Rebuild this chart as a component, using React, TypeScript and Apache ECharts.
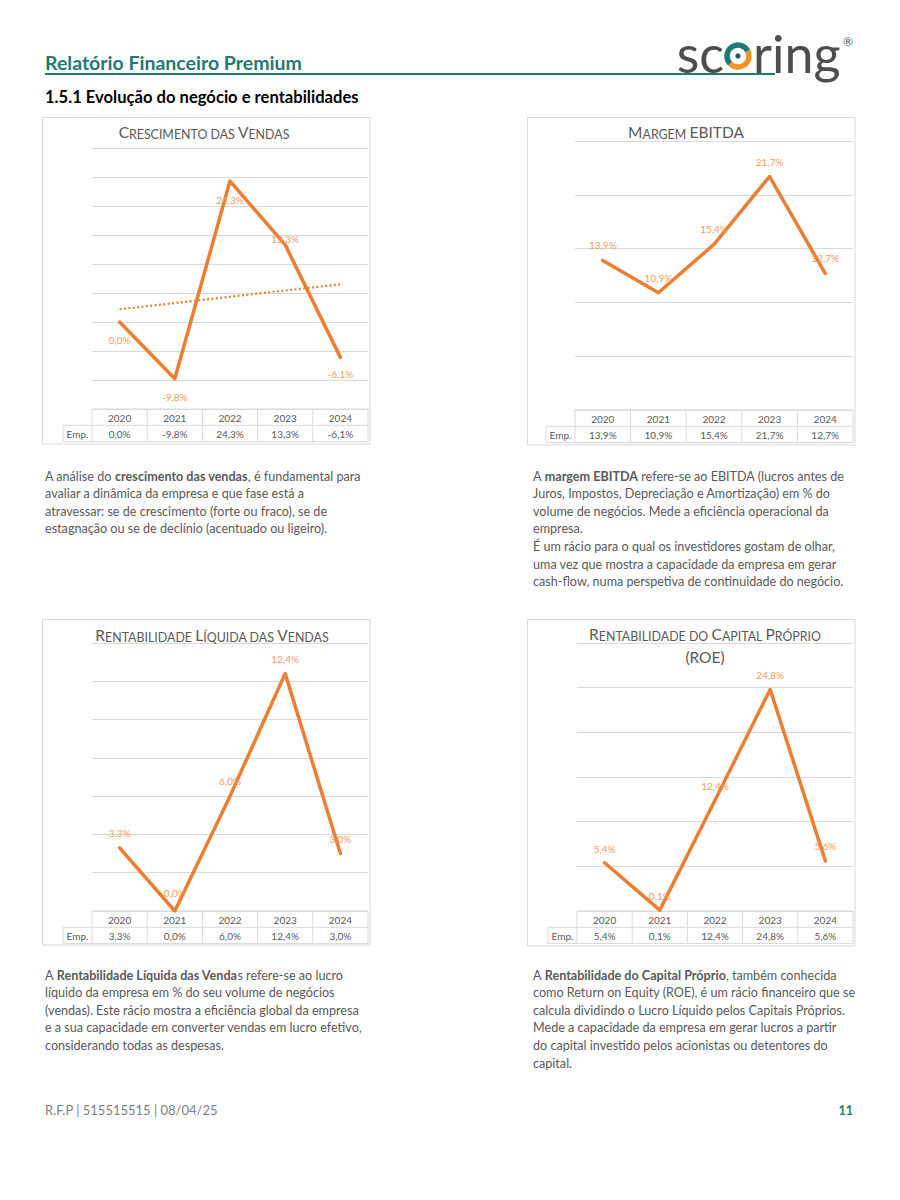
import React, { useEffect, useRef } from "react";
import * as echarts from "echarts";

// ---------- data ----------
const years = ["2020", "2021", "2022", "2023", "2024"];
const salesGrowth = [0.0, -9.8, 24.3, 13.3, -6.1];
const salesTrendEnds = [2.2, 6.5]; // linear trend line read at 2020 and 2024
const ebitdaMargin = [13.9, 10.9, 15.4, 21.7, 12.7];
const netMargin = [3.3, 0.0, 6.0, 12.4, 3.0];
const roe = [5.4, 0.1, 12.4, 24.8, 5.6];
const rowLabel = "Emp.";

const salesAxis = { min: -15, max: 30, interval: 5 };
const ebitdaAxis = { min: 0, max: 25, interval: 5 };
const netAxis = { min: 0, max: 14, interval: 2 };
const roeAxis = { min: 0, max: 30, interval: 5 };

// ---------- texts ----------
const reportTitle = "Relatório Financeiro Premium";
const sectionTitle = "1.5.1 Evolução do negócio e rentabilidades";
const footerText = "R.F.P | 515515515 | 08/04/25";
const pageNumber = "11";

const para1 = [
  "A análise do {b|crescimento das vendas}, é fundamental para",
  "avaliar a dinâmica da empresa e que fase está a",
  "atravessar: se de crescimento (forte ou fraco), se de",
  "estagnação ou se de declínio (acentuado ou ligeiro).",
];
const para2 = [
  "A {b|margem EBITDA} refere-se ao EBITDA (lucros antes de",
  "Juros, Impostos, Depreciação e Amortização) em % do",
  "volume de negócios. Mede a eficiência operacional da",
  "empresa.",
  "É um rácio para o qual os investidores gostam de olhar,",
  "uma vez que mostra a capacidade da empresa em gerar",
  "cash-flow, numa perspetiva de continuidade do negócio.",
];
const para3 = [
  "A {b|Rentabilidade Líquida das Venda}s refere-se ao lucro",
  "líquido da empresa em % do seu volume de negócios",
  "(vendas). Este rácio mostra a eficiência global da empresa",
  "e a sua capacidade em converter vendas em lucro efetivo,",
  "considerando todas as despesas.",
];
const para4 = [
  "A {b|Rentabilidade do Capital Próprio}, também conhecida",
  "como Return on Equity (ROE), é um rácio financeiro que se",
  "calcula dividindo o Lucro Líquido pelos Capitais Próprios.",
  "Mede a capacidade da empresa em gerar lucros a partir",
  "do capital investido pelos acionistas ou detentores do",
  "capital.",
];

// ---------- styles ----------
const FONT = "Lato, 'Noto Sans', sans-serif";
const GREY = "#595959";
const BORDER = "#d9d9d9";
const ORANGE = "#ED7D31";
const LABEL = "#F39B5D";
const TEAL = "#1f7a72";
const LOGO_ORANGE = "#f39325";
const LOGO_GREY = "#4d4d4d";

const fmtPct = (v: number) => v.toFixed(1).replace(".", ",") + "%";

function smallCaps(s: string) {
  let out = "";
  let cur = "";
  let curType = "";
  for (const ch of s) {
    const upper = ch !== ch.toLowerCase() || ch === "(" || ch === ")";
    let type = upper ? "b" : "s";
    if (ch === " ") type = curType || "s";
    if (type !== curType && cur) {
      out += `{${curType}|${cur}}`;
      cur = "";
    }
    curType = type;
    cur += type === "s" ? ch.toUpperCase() : ch;
  }
  if (cur) out += `{${curType}|${cur}}`;
  return out;
}

type Panel = {
  titleLines: string[];
  titleX: number;
  titleY: number[];
  values: number[];
  box: number[];
  grid: { left: number; top: number; right: number; bottom: number };
  axis: { min: number; max: number; interval: number };
  labelPos: string[];
  labelDist: number[];
};

const panels: Panel[] = [
  {
    titleLines: ["Crescimento das Vendas"],
    titleX: 204,
    titleY: [132],
    values: salesGrowth,
    box: [42.5, 117.5, 370, 444],
    grid: { left: 92, top: 148, right: 368, bottom: 409 },
    axis: salesAxis,
    labelPos: ["bottom", "bottom", "bottom", "top", "bottom"],
    labelDist: [12, 12, 13, 0, 11],
  },
  {
    titleLines: ["Margem EBITDA"],
    titleX: 686,
    titleY: [132],
    values: ebitdaMargin,
    box: [527.5, 117.5, 855, 445],
    grid: { left: 575, top: 141, right: 853, bottom: 410 },
    axis: ebitdaAxis,
    labelPos: ["top", "top", "top", "top", "top"],
    labelDist: [9, 9, 9, 9, 9],
  },
  {
    titleLines: ["Rentabilidade Líquida das Vendas"],
    titleX: 212,
    titleY: [635],
    values: netMargin,
    box: [42.5, 619.5, 370, 945],
    grid: { left: 92, top: 643, right: 368, bottom: 911 },
    axis: netAxis,
    labelPos: ["top", "top", "top", "top", "top"],
    labelDist: [9, 12, 9, 9, 9],
  },
  {
    titleLines: ["Rentabilidade do Capital Próprio", "(ROE)"],
    titleX: 705,
    titleY: [634, 657],
    values: roe,
    box: [527.5, 619.5, 855, 946],
    grid: { left: 577, top: 643, right: 853, bottom: 911 },
    axis: roeAxis,
    labelPos: ["top", "top", "top", "top", "top"],
    labelDist: [8, 8, 8, 8, 9],
  },
];

function txt(x: number, y: number, text: string, extra: any = {}, rich?: any) {
  const align = extra.align || "left";
  const style: any = {
    text,
    fill: extra.fill || GREY,
    fontSize: extra.fontSize || 12,
    fontFamily: extra.fontFamily || FONT,
    fontWeight: extra.fontWeight || "normal",
    align,
    textAlign: align,
    verticalAlign: extra.verticalAlign || "middle",
    textVerticalAlign: extra.verticalAlign || "middle",
  };
  if (rich) style.rich = rich;
  return { type: "text", x, y, silent: true, z: 10, style };
}

function ln(x1: number, y1: number, x2: number, y2: number, color = BORDER, width = 1) {
  return {
    type: "line",
    silent: true,
    z: 1,
    shape: { x1, y1, x2, y2 },
    style: { stroke: color, lineWidth: width },
  };
}

function buildOption() {
  const grid: any[] = [];
  const xAxis: any[] = [];
  const yAxis: any[] = [];
  const series: any[] = [];
  const graphic: any[] = [];

  const titleRich = {
    b: { fontSize: 15.5, fill: GREY, fontFamily: FONT, verticalAlign: "bottom" },
    s: { fontSize: 12.4, fill: GREY, fontFamily: FONT, verticalAlign: "bottom" },
  };

  panels.forEach((p, i) => {
    const g = p.grid;
    grid.push({ left: g.left, top: g.top, width: g.right - g.left, height: g.bottom - g.top });
    xAxis.push({
      type: "category",
      gridIndex: i,
      data: years,
      boundaryGap: true,
      axisLine: { show: false },
      axisTick: { show: false },
      axisLabel: { show: false },
      splitLine: { show: false },
    });
    yAxis.push({
      type: "value",
      gridIndex: i,
      min: p.axis.min,
      max: p.axis.max,
      interval: p.axis.interval,
      axisLine: { show: false },
      axisTick: { show: false },
      axisLabel: { show: false },
      splitLine: { show: true, lineStyle: { color: BORDER, width: 1 } },
    });
    series.push({
      type: "line",
      xAxisIndex: i,
      yAxisIndex: i,
      silent: true,
      z: 3,
      symbol: "circle",
      symbolSize: 2,
      showSymbol: true,
      itemStyle: { color: "rgba(0,0,0,0)" },
      lineStyle: { color: ORANGE, width: 3.5, cap: "round", join: "round" },
      label: {
        show: true,
        color: LABEL,
        fontSize: 10,
        fontFamily: FONT,
        formatter: (q: any) => fmtPct(q.value),
      },
      data: p.values.map((v, j) => ({
        value: v,
        label: { position: p.labelPos[j], distance: p.labelDist[j] },
      })),
    });
    if (i === 0) {
      series.push({
        type: "line",
        xAxisIndex: 0,
        yAxisIndex: 0,
        silent: true,
        z: 2,
        symbol: "none",
        connectNulls: true,
        lineStyle: { color: ORANGE, width: 2.2, type: [2, 2.4] },
        data: [salesTrendEnds[0], null, null, null, salesTrendEnds[1]],
      });
    }

    // chart box
    const [bx0, by0, bx1, by1] = p.box;
    graphic.push({
      type: "rect",
      silent: true,
      z: 0,
      shape: { x: bx0, y: by0, width: bx1 - bx0, height: by1 - by0 },
      style: { fill: "none", stroke: BORDER, lineWidth: 1 },
    });

    // title
    p.titleLines.forEach((t, k) => {
      graphic.push(txt(p.titleX, p.titleY[k], smallCaps(t), { align: "center" }, titleRich));
    });

    // data table
    const x0 = g.left;
    const x1 = g.right;
    const yT = g.bottom;
    const rh = 16.3;
    const empL = x0 - 29;
    const colW = (x1 - x0) / years.length;
    graphic.push(ln(x0, yT, x1, yT));
    graphic.push(ln(empL, yT + rh, x1, yT + rh));
    graphic.push(ln(empL, yT + 2 * rh, x1, yT + 2 * rh));
    graphic.push(ln(empL, yT + rh, empL, yT + 2 * rh));
    for (let k = 0; k <= years.length; k++) {
      graphic.push(ln(x0 + k * colW, yT, x0 + k * colW, yT + 2 * rh));
    }
    years.forEach((yr, k) => {
      const cx = x0 + (k + 0.5) * colW;
      graphic.push(txt(cx, yT + rh / 2 + 0.5, yr, { align: "center", fontSize: 10 }));
      graphic.push(txt(cx, yT + 1.5 * rh + 0.5, fmtPct(p.values[k]), { align: "center", fontSize: 10 }));
    });
    graphic.push(txt((empL + x0) / 2, yT + 1.5 * rh + 0.5, rowLabel, { align: "center", fontSize: 10 }));
  });

  // header
  graphic.push(txt(45, 62, reportTitle, { fill: TEAL, fontSize: 19.5, fontWeight: "bold" }));
  graphic.push(ln(45, 74, 775, 74, TEAL, 2));
  graphic.push(txt(45, 97, sectionTitle, { fill: "#000000", fontSize: 16.6, fontWeight: "bold" }));

  // logo
  graphic.push(txt(724, 53, "sc", { fill: LOGO_GREY, fontSize: 52, align: "right" }));
  graphic.push(txt(753, 53, "ring", { fill: LOGO_GREY, fontSize: 52 }));
  graphic.push({
    type: "arc",
    silent: true,
    z: 10,
    shape: { cx: 738, cy: 56, r: 11, startAngle: Math.PI * 0.75, endAngle: Math.PI * 1.85, clockwise: true },
    style: { stroke: TEAL, lineWidth: 5.5, fill: "none" },
  });
  graphic.push({
    type: "arc",
    silent: true,
    z: 10,
    shape: { cx: 738, cy: 56, r: 11, startAngle: Math.PI * 1.85, endAngle: Math.PI * 2.75, clockwise: true },
    style: { stroke: LOGO_ORANGE, lineWidth: 5.5, fill: "none" },
  });
  graphic.push({
    type: "circle",
    silent: true,
    z: 10,
    shape: { cx: 738, cy: 56, r: 2.6 },
    style: { fill: "#2f4f4f" },
  });
  graphic.push(txt(848, 41, "®", { fill: LOGO_GREY, fontSize: 12, align: "center" }));

  // paragraphs
  const pSize = 12.6;
  const pRich = { b: { fontWeight: "bold", fill: GREY, fontSize: pSize, fontFamily: FONT } };
  const addPara = (lines: string[], x: number, y0: number) => {
    lines.forEach((l, k) => graphic.push(txt(x, y0 + k * 17.6, l, { fontSize: pSize }, pRich)));
  };
  addPara(para1, 45, 476);
  addPara(para2, 533, 476);
  addPara(para3, 45, 975);
  addPara(para4, 533, 975);

  // footer
  graphic.push(txt(45, 1110, footerText, { fill: "#7f7f7f", fontSize: 13 }));
  graphic.push(txt(853, 1110, pageNumber, { fill: TEAL, fontSize: 12.5, fontWeight: "bold", align: "right" }));

  return {
    animation: false,
    backgroundColor: "#ffffff",
    grid,
    xAxis,
    yAxis,
    series,
    graphic: { elements: graphic },
  };
}

export default function App() {
  const ref = useRef<HTMLDivElement>(null);
  useEffect(() => {
    const chart = echarts.init(ref.current as HTMLDivElement, null, {
      renderer: "svg",
      width: 900,
      height: 1200,
    });
    chart.setOption(buildOption() as any);
    return () => chart.dispose();
  }, []);
  return (
    <div
      ref={ref}
      style={{ position: "absolute", left: 0, top: 0, width: 900, height: 1200, background: "#fff" }}
    />
  );
}
